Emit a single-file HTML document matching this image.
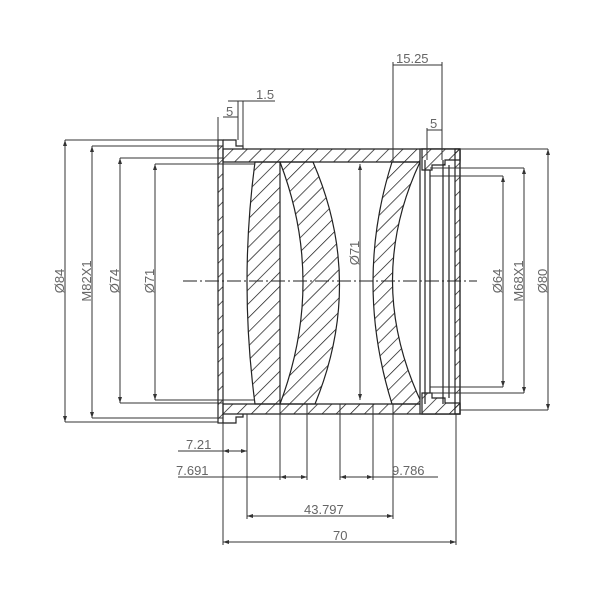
<!DOCTYPE html>
<html><head><meta charset="utf-8"><style>
html,body{margin:0;padding:0;background:#fff;}
svg{display:block;}
text{font-family:"Liberation Sans",sans-serif;font-size:13px;fill:#666;}
</style></head><body>
<svg width="600" height="600" viewBox="0 0 600 600" xmlns="http://www.w3.org/2000/svg">
<defs>
<pattern id="h" patternUnits="userSpaceOnUse" width="10" height="10" patternTransform="rotate(45)">
<line x1="0" y1="0" x2="0" y2="10" stroke="#111" stroke-width="1.4"/>
</pattern>
</defs>
<g stroke="#222" stroke-width="1.2" fill="none">
<rect x="218" y="140" width="5" height="283" fill="url(#h)"/>
<path d="M223 140 H236 V146 H243 V149 M223 423 H236 V417 H243 V414"/>
<path d="M223 149 H460 V162 H223 Z" fill="url(#h)"/>
<path d="M223 404 H460 V414 H223 Z" fill="url(#h)"/>
<path d="M255 162 Q239 282 255 404 H280 V162 Z" fill="url(#h)"/>
<path d="M280 162 Q326 282 280 404 H315 Q365 282 313 162 Z" fill="url(#h)"/>
<path d="M392 162 Q354 282 392 404 H422 Q364 282 420 162 Z" fill="url(#h)"/>
<rect x="420" y="149" width="40" height="265" fill="#fff"/>
<path d="M422 149 H460 V160 H445 V165 H432 V170 H422 Z" fill="url(#h)"/>
<path d="M422 414 H460 V403 H445 V398 H432 V393 H422 Z" fill="url(#h)"/>
<rect x="455" y="149" width="5" height="265" fill="url(#h)"/>
<line x1="425" y1="160" x2="425" y2="404"/>
<line x1="430" y1="170" x2="430" y2="393"/>
<line x1="443" y1="160" x2="443" y2="404"/>
<line x1="449" y1="165" x2="449" y2="398"/>
<line x1="183" y1="281" x2="477" y2="281" stroke-dasharray="14 3 2 3" stroke-width="1"/>
</g>
<g stroke="#333" stroke-width="1" fill="none">
<path d="M65 140 H218 M65 422 H218 M65 140 V422"/>
<path d="M92 146 H223 M92 418 H223 M92 146 V418"/>
<path d="M120 158 H223 M120 403 H223 M120 158 V403"/>
<path d="M155 164 H255 M155 400 H255 M155 164 V400"/>
<line x1="360" y1="164" x2="360" y2="400"/>
<path d="M460 149 H548 M460 410 H548 M548 149 V410"/>
<path d="M430 168 H524 M430 393 H524 M524 168 V393"/>
<path d="M430 176 H503 M430 387 H503 M503 176 V387"/>
<path d="M218 140 V117 M223 117 H238 M238 101 V140 M243 101 V149 M228 101 H275"/>
<path d="M393 62 V162 M442 62 V160 M393 65 H442"/>
<path d="M427 128 V160 M427 130 H442"/>
<path d="M223 423 V545 M456 414 V545 M247 414 V519 M280 404 V480 M307 404 V480 M340 404 V480 M373 404 V480 M393 404 V519"/>
<path d="M178 451 H247 M178 477 H307 M340 477 H438 M247 516 H393 M223 542 H456"/>
</g>
<g fill="#333">
<path d="M65 140 l-2 6 h4z M65 422 l-2 -6 h4z M92 146 l-2 6 h4z M92 418 l-2 -6 h4z M120 158 l-2 6 h4z M120 403 l-2 -6 h4z M155 164 l-2 6 h4z M155 400 l-2 -6 h4z M360 164 l-2 6 h4z M360 400 l-2 -6 h4z"/>
<path d="M548 149 l-2 6 h4z M548 410 l-2 -6 h4z M524 168 l-2 6 h4z M524 393 l-2 -6 h4z M503 176 l-2 6 h4z M503 387 l-2 -6 h4z"/>
<path d="M247 516 l6 -2 v4z M393 516 l-6 -2 v4z M223 542 l6 -2 v4z M456 542 l-6 -2 v4z M280 477 l6 -2 v4z M307 477 l-6 -2 v4z M340 477 l6 -2 v4z M373 477 l-6 -2 v4z M247 451 l-6 -2 v4z M223 451 l6 -2 v4z"/>
</g>
<g>
<text transform="translate(64,281) rotate(-90)" text-anchor="middle">Ø84</text>
<text transform="translate(91,281) rotate(-90)" text-anchor="middle">M82X1</text>
<text transform="translate(119,281) rotate(-90)" text-anchor="middle">Ø74</text>
<text transform="translate(154,281) rotate(-90)" text-anchor="middle">Ø71</text>
<text transform="translate(359,253) rotate(-90)" text-anchor="middle">Ø71</text>
<text transform="translate(502,281) rotate(-90)" text-anchor="middle">Ø64</text>
<text transform="translate(523,281) rotate(-90)" text-anchor="middle">M68X1</text>
<text transform="translate(547,281) rotate(-90)" text-anchor="middle">Ø80</text>
<text x="256" y="99">1.5</text>
<text x="226" y="116">5</text>
<text x="430" y="128">5</text>
<text x="396" y="63">15.25</text>
<text x="186" y="449">7.21</text>
<text x="176" y="475">7.691</text>
<text x="392" y="475">9.786</text>
<text x="304" y="514">43.797</text>
<text x="333" y="540">70</text>
</g>
</svg>
</body></html>
